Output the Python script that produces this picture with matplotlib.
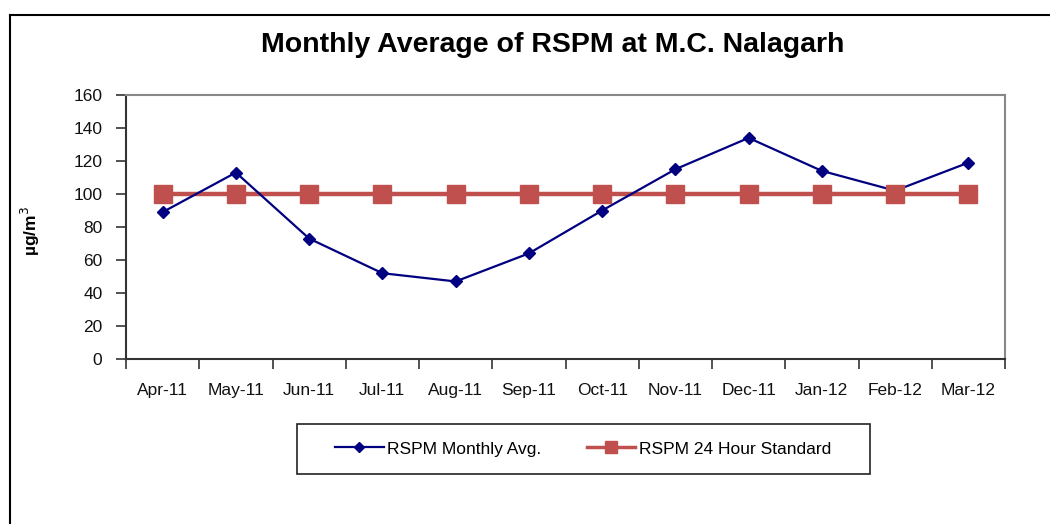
import matplotlib
matplotlib.use("Agg")
import matplotlib.pyplot as plt
from matplotlib.lines import Line2D
from matplotlib.patches import Rectangle

plt.rcParams["font.family"] = ["Liberation Sans", "DejaVu Sans"]

months = ["Apr-11", "May-11", "Jun-11", "Jul-11", "Aug-11", "Sep-11",
          "Oct-11", "Nov-11", "Dec-11", "Jan-12", "Feb-12", "Mar-12"]
rspm_avg = [89, 113, 73, 52, 47, 64, 90, 115, 134, 114, 102, 119]
rspm_std = [100] * 12
y_ticks = [0, 20, 40, 60, 80, 100, 120, 140, 160]

W, H = 1050, 524
fig = plt.figure(figsize=(W / 100, H / 100), dpi=100)
ax = fig.add_axes([126 / W, 1 - 359 / H, (1005 - 126) / W, (359 - 95) / H])

x = list(range(len(months)))
blue = "#000080"
red = "#C0504D"

# line of the standard below, markers on top (Excel-like stacking)
ax.plot(x, rspm_std, color=red, lw=3.2, zorder=2)
ax.plot(x, rspm_avg, color=blue, lw=1.6, marker="D", ms=6.5, zorder=3)
ax.plot(x, rspm_std, color=red, ls="none", marker="s", ms=13, zorder=4)

ax.set_xlim(-0.5, len(months) - 0.5)
ax.set_ylim(0, 160)
ax.set_yticks(y_ticks)
ax.tick_params(axis="y", direction="out", length=7, width=1.2, color="#333333",
               labelsize=12.5, pad=10, labelcolor="#111111")

ax.set_xticks([i - 0.5 for i in range(len(months) + 1)])
ax.set_xticklabels([])
ax.set_xticks(x, minor=True)
ax.set_xticklabels(months, minor=True)
ax.tick_params(axis="x", which="major", direction="out", length=7, width=1.2, color="#333333")
ax.tick_params(axis="x", which="minor", length=0, labelsize=12.5, pad=17, labelcolor="#111111")

for s in ["left", "bottom"]:
    ax.spines[s].set_color("#333333")
    ax.spines[s].set_linewidth(1.5)
for s in ["top", "right"]:
    ax.spines[s].set_color("#888888")
    ax.spines[s].set_linewidth(1.5)

fig.text(553 / W, 1 - 45 / H, "Monthly Average of RSPM at M.C. Nalagarh",
         ha="center", va="center", fontsize=20.5, fontweight="bold")
fig.text(30 / W, 1 - 231 / H, "\u00b5g/m$^3$", rotation=90, ha="center", va="center",
         fontsize=12.5, fontweight="bold")

handles = [
    Line2D([], [], color=blue, lw=1.6, marker="D", ms=5),
    Line2D([], [], color=red, lw=2.5, marker="s", ms=8),
]
fig.legend(handles, ["RSPM Monthly Avg.", "RSPM 24 Hour Standard"],
           loc="center", bbox_to_anchor=(583 / W, 1 - 449 / H), ncol=2,
           fontsize=12.5, frameon=False,
           handlelength=2.8, handletextpad=0.2, columnspacing=2.6,
           borderpad=0, borderaxespad=0)
# legend box drawn separately so its padding matches the reference
fig.add_artist(Rectangle((297 / W, 1 - 474 / H), (870 - 297) / W, 50 / H,
                         transform=fig.transFigure, fill=False,
                         edgecolor="#222222", lw=1.2))

# outer chart frame (only left and top edges fall inside the picture)
fig.add_artist(Line2D([10 / W, 10 / W], [0, 1 - 15 / H], color="black", lw=1.5))
fig.add_artist(Line2D([10 / W, 1], [1 - 15 / H, 1 - 15 / H], color="black", lw=1.5))

fig.savefig("out.png", dpi=100)
